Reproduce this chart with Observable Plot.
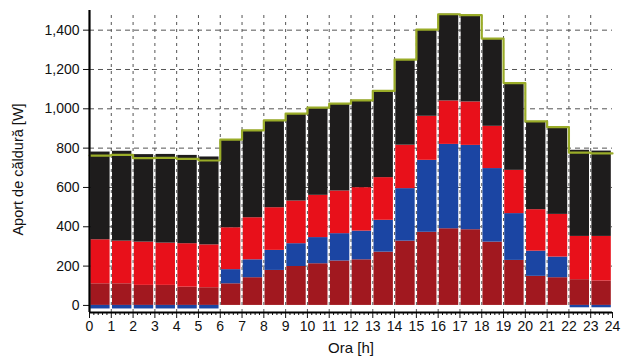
<!DOCTYPE html>
<html>
<head>
<meta charset="utf-8">
<script src="https://cdn.jsdelivr.net/npm/d3@7"></script>
<script src="https://cdn.jsdelivr.net/npm/@observablehq/plot@0.6"></script>
<style>
  html, body { margin: 0; padding: 0; background: #fff; }
  #chart svg { font-family: "Liberation Sans", Arial, sans-serif; }
</style>
</head>
<body>
<div id="chart"></div>
<script>
const hours = d3.range(24);
const seriesNames = ["s1", "s2", "s3", "s4"];
const seriesColors = ["#a1181f", "#1b45a3", "#e8101a", "#1e1c1c"];
const s1 = [110,110,102,102,93,90,110,141,178,198,212,226,232,271,327,372,390,385,322,229,148,141,131,124];
const s2 = [-18,-18,-18,-18,-18,-18,72,91,102,116,133,139,146,162,267,366,429,429,374,238,128,105,-12,-12];
const s3 = [224,217,220,215,221,218,213,214,217,217,215,217,221,217,221,224,221,221,215,220,211,217,220,227];
const s4 = [446,457,445,451,449,447,448,444,444,444,446,444,444,441,435,441,441,441,446,444,449,444,438,434];
const yTicks = d3.range(0, 1401, 200);
const xTicks = d3.range(0, 25);
const xMinor = d3.range(0, 120).map(i => i / 5).filter((v, i) => i % 5 !== 0);

const valuesBySeries = [s1, s2, s3, s4];
const table = [];
seriesNames.forEach((s, si) => {
  hours.forEach(h => table.push({hour: h, series: s, value: valuesBySeries[si][h]}));
});
const net = hours.map(h => s1[h] + s2[h] + s3[h] + s4[h]);
const steps = hours.map(h => ({x: h, y: net[h]})).concat([{x: 24, y: net[23]}]);

const chart = Plot.plot({
  width: 621,
  height: 358,
  marginLeft: 89,
  marginRight: 9,
  marginTop: 10,
  marginBottom: 46,
  style: {fontFamily: '"Liberation Sans", Arial, sans-serif', fontSize: "14px", color: "#111", background: "#fff"},
  x: {domain: [0, 24]},
  y: {domain: [-36, 1500]},
  color: {type: "ordinal", domain: seriesNames, range: seriesColors},
  marks: [
    Plot.ruleY(yTicks.filter(v => v > 0), {stroke: "#555", strokeWidth: 1, strokeDasharray: "5,4"}),
    Plot.ruleX(d3.range(1, 24), {y1: -36, y2: 1490, stroke: "#555", strokeWidth: 1, strokeDasharray: "3,4"}),
    Plot.rectY(table, Plot.stackY({
      x1: "hour",
      x2: d => d.hour + 1,
      y: "value",
      z: "series",
      fill: "series",
      insetLeft: 1.2,
      insetRight: 1.2
    })),
    Plot.line(steps, {x: "x", y: "y", curve: "step-after", stroke: "#9aac28", strokeWidth: 2.2}),
    Plot.axisY({ticks: yTicks, tickFormat: d3.format(","), tickSize: 6, tickPadding: 4, fontSize: 14, label: null}),
    Plot.axisX({ticks: xTicks, tickFormat: d => String(d), tickSize: 6, tickPadding: 3, fontSize: 14, label: null}),
    Plot.axisX({ticks: xMinor, tickFormat: () => "", tickSize: 3, label: null}),
    Plot.ruleX([0], {y1: -36, y2: 1500, stroke: "#000", strokeWidth: 2.2}),
    Plot.ruleY([-36], {stroke: "#000", strokeWidth: 2.2}),
    Plot.text(["Aport de căldură [W]"], {frameAnchor: "left", textAnchor: "middle", dx: -71, dy: 8, rotate: -90, fontSize: 14.5, fill: "#111"}),
    Plot.text(["Ora [h]"], {frameAnchor: "bottom", dy: 40, fontSize: 15, fill: "#111"})
  ]
});
document.getElementById("chart").appendChild(chart);
</script>
</body>
</html>
